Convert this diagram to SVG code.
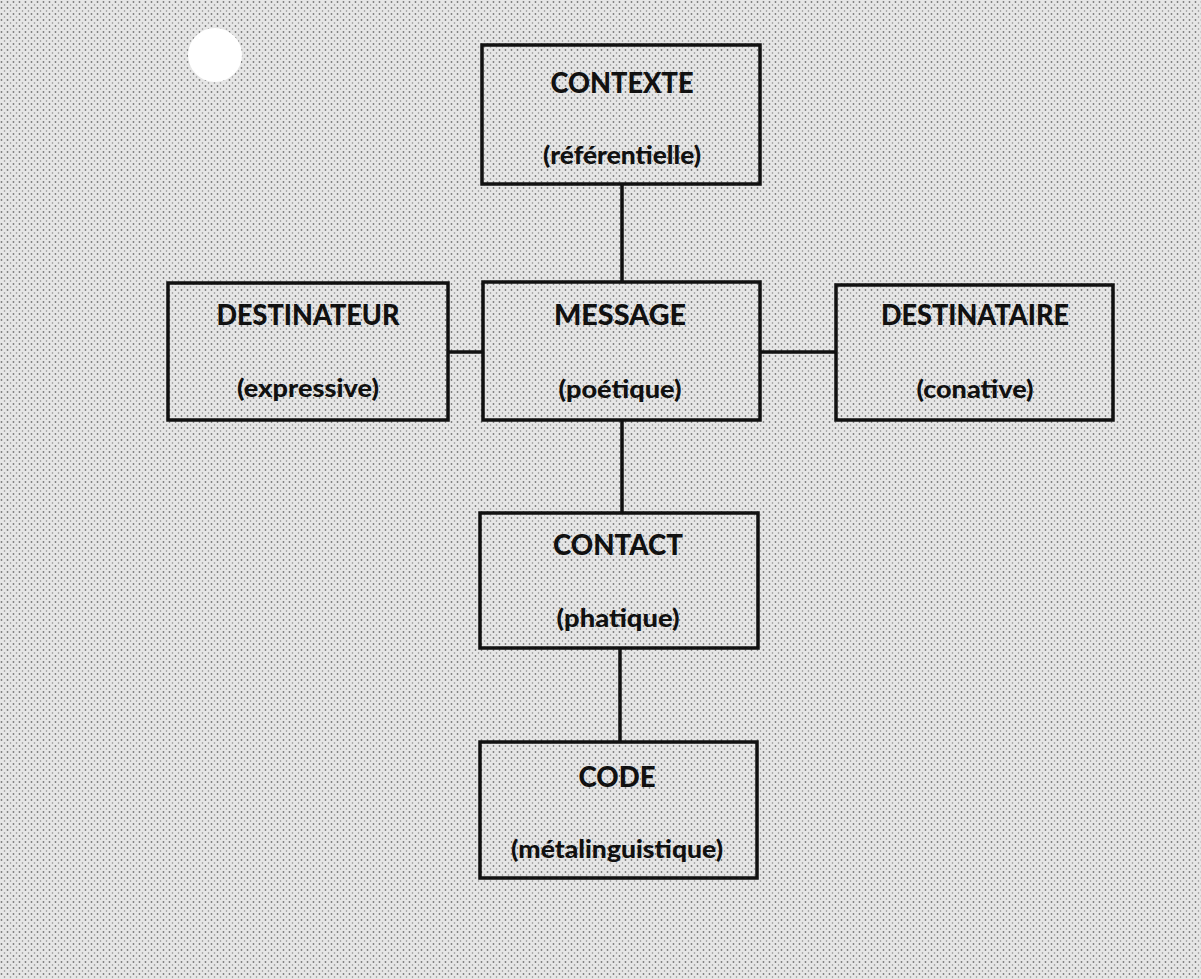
<svg xmlns="http://www.w3.org/2000/svg" width="1201" height="979" viewBox="0 0 1201 979">
  <defs>
    <pattern id="stipple" width="6" height="6" patternUnits="userSpaceOnUse">
      <rect width="6" height="6" fill="#e6e6e6"/>
      <circle cx="1.5" cy="2" r="0.9" fill="#7a7a7a"/>
      <circle cx="4.5" cy="5" r="0.8" fill="#8c8c8c"/>
    </pattern>
    <style>
      .box { fill: url(#stipple); stroke: #111; stroke-width: 3.5; }
      .conn line { stroke: #111; stroke-width: 3.5; }
      .t { font-family: Lato, "Liberation Sans", sans-serif; font-weight: 900; fill: #111; text-anchor: middle; }
      .cap { font-size: 28px; }
      .low { font-size: 25px; }
    </style>
  </defs>
  <rect width="1201" height="979" fill="url(#stipple)"/>
  <circle cx="215" cy="55" r="27" fill="#ffffff"/>

  <g id="connectors" class="conn">
    <line x1="622" y1="184" x2="622" y2="282"/>
    <line x1="448" y1="352" x2="483" y2="352"/>
    <line x1="760" y1="352" x2="836" y2="352"/>
    <line x1="622" y1="420" x2="622" y2="513"/>
    <line x1="620" y1="648" x2="620" y2="742"/>
  </g>

  <g id="contexte">
    <rect class="box" x="482" y="45" width="278" height="139"/>
    <text class="t cap" x="622" y="93" textLength="143" lengthAdjust="spacingAndGlyphs">CONTEXTE</text>
    <text class="t low" x="622" y="164" textLength="158" lengthAdjust="spacingAndGlyphs">(référentielle)</text>
  </g>

  <g id="destinateur">
    <rect class="box" x="168" y="283" width="280" height="137"/>
    <text class="t cap" x="308" y="325" textLength="183" lengthAdjust="spacingAndGlyphs">DESTINATEUR</text>
    <text class="t low" x="308" y="397" textLength="142" lengthAdjust="spacingAndGlyphs">(expressive)</text>
  </g>

  <g id="message">
    <rect class="box" x="483" y="282" width="277" height="138"/>
    <text class="t cap" x="620" y="325" textLength="132" lengthAdjust="spacingAndGlyphs">MESSAGE</text>
    <text class="t low" x="620" y="398" textLength="123" lengthAdjust="spacingAndGlyphs">(poétique)</text>
  </g>

  <g id="destinataire">
    <rect class="box" x="836" y="285" width="277" height="135"/>
    <text class="t cap" x="975" y="325" textLength="188" lengthAdjust="spacingAndGlyphs">DESTINATAIRE</text>
    <text class="t low" x="975" y="398" textLength="117" lengthAdjust="spacingAndGlyphs">(conative)</text>
  </g>

  <g id="contact">
    <rect class="box" x="480" y="513" width="278" height="135"/>
    <text class="t cap" x="618" y="555" textLength="130" lengthAdjust="spacingAndGlyphs">CONTACT</text>
    <text class="t low" x="618" y="627" textLength="123" lengthAdjust="spacingAndGlyphs">(phatique)</text>
  </g>

  <g id="code">
    <rect class="box" x="480" y="742" width="277" height="136"/>
    <text class="t cap" x="617" y="787" textLength="77" lengthAdjust="spacingAndGlyphs">CODE</text>
    <text class="t low" x="617" y="858" textLength="212" lengthAdjust="spacingAndGlyphs">(métalinguistique)</text>
  </g>
</svg>
